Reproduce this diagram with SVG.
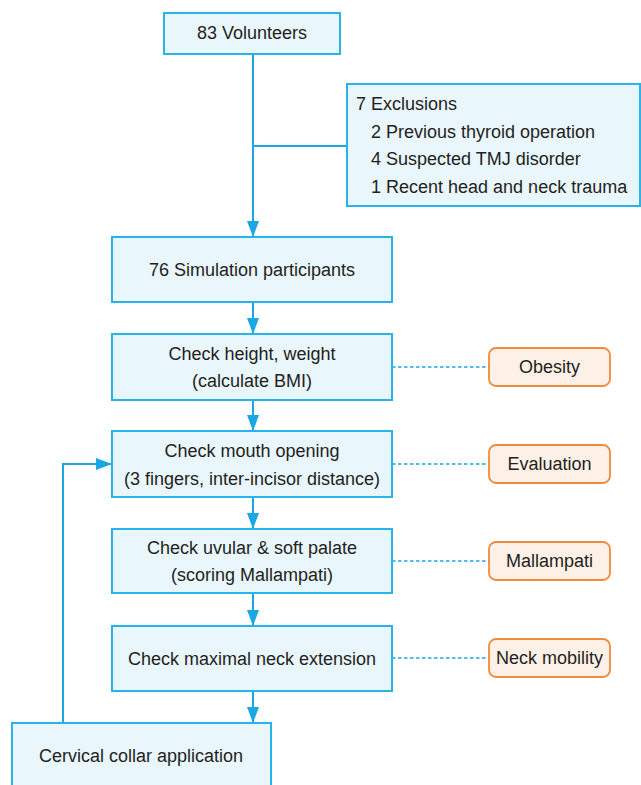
<svg xmlns="http://www.w3.org/2000/svg" width="641" height="785" viewBox="0 0 641 785">
<defs>
<style>
.box{fill:#e9f6fc;stroke:#28b4e8;stroke-width:2}
.side{fill:#fdf1e7;stroke:#f08a3c;stroke-width:1.8}
.t{font-family:"Liberation Sans",Arial,sans-serif;font-size:18px;fill:#231f20}
.c{text-anchor:middle}
.ln{stroke:#1ba8e2;stroke-width:2;fill:none}
.dash{stroke:#1ba8e2;stroke-width:1.3;stroke-dasharray:3.5 2.5;fill:none}
</style>
<marker id="ah" markerWidth="16" markerHeight="12" refX="16" refY="6" viewBox="0 0 16 12" orient="auto" markerUnits="userSpaceOnUse">
<path d="M0,0 L16,6 L0,12 Z" fill="#1ba8e2"/>
</marker>
</defs>
<rect width="641" height="785" fill="#ffffff"/>
<g id="connectors">
<line class="ln" x1="253" y1="54" x2="253" y2="237" marker-end="url(#ah)"/>
<line class="ln" x1="253" y1="146" x2="347" y2="146"/>
<line class="ln" x1="253" y1="302" x2="253" y2="334" marker-end="url(#ah)"/>
<line class="ln" x1="253" y1="400" x2="253" y2="431" marker-end="url(#ah)"/>
<line class="ln" x1="253" y1="497" x2="253" y2="529" marker-end="url(#ah)"/>
<line class="ln" x1="253" y1="593" x2="253" y2="626" marker-end="url(#ah)"/>
<line class="ln" x1="253" y1="691" x2="253" y2="723" marker-end="url(#ah)"/>
<polyline class="ln" points="63,723 63,464 112,464" marker-end="url(#ah)"/>
<line class="dash" x1="392" y1="367" x2="489" y2="367"/>
<line class="dash" x1="392" y1="464" x2="489" y2="464"/>
<line class="dash" x1="392" y1="561" x2="489" y2="561"/>
<line class="dash" x1="392" y1="658" x2="489" y2="658"/>
</g>
<g id="volunteers">
<rect class="box" x="164" y="13" width="176" height="41"/>
<text class="t c" x="252" y="39">83 Volunteers</text>
</g>
<g id="exclusions">
<rect class="box" x="347" y="84" width="293" height="122"/>
<text class="t" x="356" y="110">7 Exclusions</text>
<text class="t" x="371" y="138">2 Previous thyroid operation</text>
<text class="t" x="371" y="165">4 Suspected TMJ disorder</text>
<text class="t" x="371" y="193">1 Recent head and neck trauma</text>
</g>
<g id="participants">
<rect class="box" x="112" y="237" width="280" height="65"/>
<text class="t c" x="252" y="276">76 Simulation participants</text>
</g>
<g id="height">
<rect class="box" x="112" y="334" width="280" height="66"/>
<text class="t c" x="252" y="360">Check height, weight</text>
<text class="t c" x="252" y="387">(calculate BMI)</text>
</g>
<g id="mouth">
<rect class="box" x="112" y="431" width="280" height="66"/>
<text class="t c" x="252" y="457">Check mouth opening</text>
<text class="t c" x="252" y="485">(3 fingers, inter-incisor distance)</text>
</g>
<g id="uvular">
<rect class="box" x="112" y="529" width="280" height="64"/>
<text class="t c" x="252" y="554">Check uvular &amp; soft palate</text>
<text class="t c" x="252" y="581">(scoring Mallampati)</text>
</g>
<g id="neck">
<rect class="box" x="112" y="626" width="280" height="65"/>
<text class="t c" x="252" y="665">Check maximal neck extension</text>
</g>
<g id="collar">
<rect class="box" x="12" y="723" width="259" height="70"/>
<text class="t c" x="141" y="762">Cervical collar application</text>
</g>
<g id="obesity">
<rect class="side" x="489" y="348" width="121" height="38" rx="7"/>
<text class="t c" x="549.5" y="373">Obesity</text>
</g>
<g id="evaluation">
<rect class="side" x="489" y="445" width="121" height="38" rx="7"/>
<text class="t c" x="549.5" y="470">Evaluation</text>
</g>
<g id="mallampati">
<rect class="side" x="489" y="542" width="121" height="38" rx="7"/>
<text class="t c" x="549.5" y="567">Mallampati</text>
</g>
<g id="neckmobility">
<rect class="side" x="489" y="639" width="121" height="38" rx="7"/>
<text class="t c" x="549.5" y="664">Neck mobility</text>
</g>
</svg>
